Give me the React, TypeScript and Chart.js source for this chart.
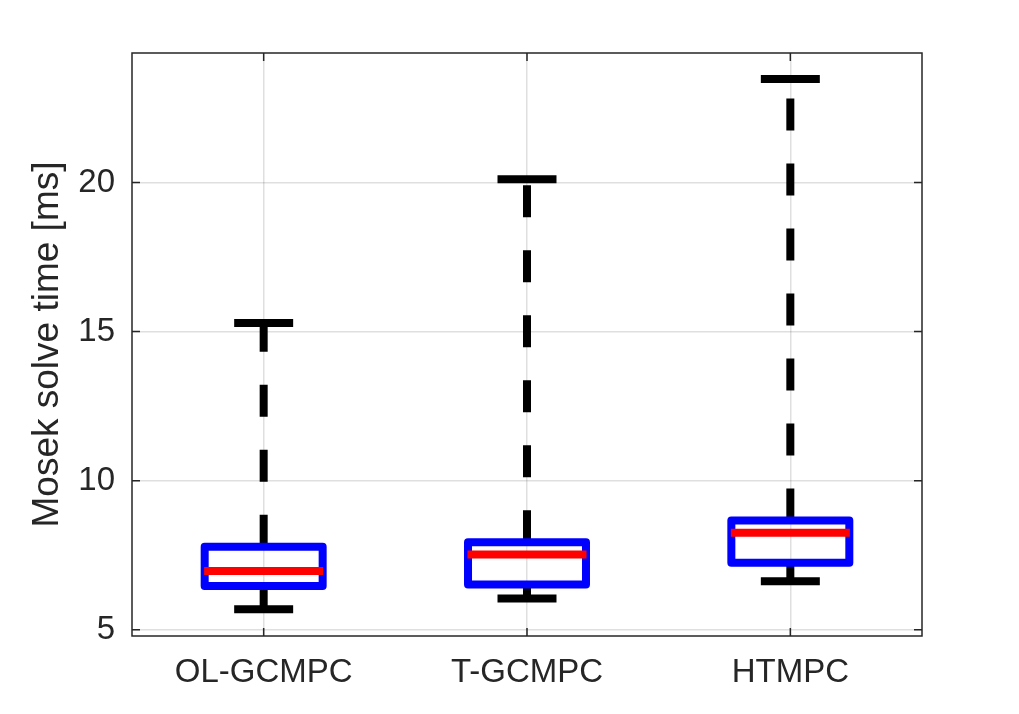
import React, { useEffect, useRef } from "react";
import { Chart, registerables } from "chart.js";

Chart.register(...registerables);

// ---- Data ----
const categories = ["OL-GCMPC", "T-GCMPC", "HTMPC"];
const lowerWhisker = [5.69, 6.05, 6.63];
const q1 = [6.47, 6.52, 7.25];
const median = [6.97, 7.52, 8.25];
const q3 = [7.78, 7.93, 8.66];
const upperWhisker = [15.29, 20.11, 23.47];
const yTicks = [5, 10, 15, 20];

// ---- Style constants (half widths in category units) ----
const BOX_HALF = 0.224;
const CAP_HALF = 0.112;
const MED_HALF = 0.226;
const FONT = "'Liberation Sans', Arial, Helvetica, sans-serif";
const AXIS_COLOR = "#262626";

type P = { x: number; y: number | null };

function buildBoxes(): P[] {
  const pts: P[] = [];
  categories.forEach((_, i) => {
    const x = i + 1;
    pts.push({ x, y: q1[i] });
    pts.push({ x: x + BOX_HALF, y: q1[i] });
    pts.push({ x: x + BOX_HALF, y: q3[i] });
    pts.push({ x: x - BOX_HALF, y: q3[i] });
    pts.push({ x: x - BOX_HALF, y: q1[i] });
    pts.push({ x, y: q1[i] });
    pts.push({ x, y: null });
  });
  return pts;
}

function buildWhiskers(): P[] {
  const pts: P[] = [];
  categories.forEach((_, i) => {
    const x = i + 1;
    pts.push({ x, y: q3[i] }, { x, y: upperWhisker[i] }, { x, y: null });
    pts.push({ x, y: q1[i] }, { x, y: lowerWhisker[i] }, { x, y: null });
  });
  return pts;
}

function buildCaps(): P[] {
  const pts: P[] = [];
  categories.forEach((_, i) => {
    const x = i + 1;
    pts.push({ x: x - CAP_HALF, y: upperWhisker[i] }, { x: x + CAP_HALF, y: upperWhisker[i] }, { x, y: null });
    pts.push({ x: x - CAP_HALF, y: lowerWhisker[i] }, { x: x + CAP_HALF, y: lowerWhisker[i] }, { x, y: null });
  });
  return pts;
}

function buildMedians(): P[] {
  const pts: P[] = [];
  categories.forEach((_, i) => {
    const x = i + 1;
    pts.push({ x: x - MED_HALF, y: median[i] }, { x: x + MED_HALF, y: median[i] }, { x, y: null });
  });
  return pts;
}

const framePlugin = {
  id: "frame",
  afterDatasetsDraw(chart: any) {
    const { ctx, chartArea, scales } = chart;
    const { left, right, top, bottom } = chartArea;
    const tl = 8;
    ctx.save();
    ctx.strokeStyle = AXIS_COLOR;
    ctx.lineWidth = 1.5;
    ctx.strokeRect(left, top, right - left, bottom - top);
    ctx.beginPath();
    scales.x.ticks.forEach((t: any) => {
      const px = scales.x.getPixelForValue(t.value);
      ctx.moveTo(px, bottom);
      ctx.lineTo(px, bottom - tl);
      ctx.moveTo(px, top);
      ctx.lineTo(px, top + tl);
    });
    scales.y.ticks.forEach((t: any) => {
      const py = scales.y.getPixelForValue(t.value);
      ctx.moveTo(left, py);
      ctx.lineTo(left + tl, py);
      ctx.moveTo(right, py);
      ctx.lineTo(right - tl, py);
    });
    ctx.stroke();
    ctx.restore();
  },
};

export default function App() {
  const ref = useRef<HTMLCanvasElement | null>(null);

  useEffect(() => {
    if (!ref.current) return;
    const common = { pointRadius: 0, pointHoverRadius: 0, fill: false, spanGaps: false, tension: 0 };
    const chart = new Chart(ref.current, {
      type: "line",
      data: {
        datasets: [
          {
            ...common,
            label: "median",
            data: buildMedians() as any,
            borderColor: "#ff0000",
            borderWidth: 8,
            borderCapStyle: "butt",
            order: 0,
          },
          {
            ...common,
            label: "box",
            data: buildBoxes() as any,
            borderColor: "#0000ff",
            borderWidth: 8,
            borderJoinStyle: "round",
            borderCapStyle: "butt",
            order: 1,
          },
          {
            ...common,
            label: "caps",
            data: buildCaps() as any,
            borderColor: "#000000",
            borderWidth: 8,
            borderCapStyle: "butt",
            order: 2,
          },
          {
            ...common,
            label: "whiskers",
            data: buildWhiskers() as any,
            borderColor: "#000000",
            borderWidth: 8,
            borderDash: [32, 33],
            borderCapStyle: "butt",
            order: 3,
          },
        ] as any,
      },
      options: {
        responsive: false,
        devicePixelRatio: 1,
        animation: false,
        events: [],
        layout: { padding: { top: 53, right: 97, left: 0, bottom: 0 } },
        plugins: {
          legend: { display: false },
          tooltip: { enabled: false },
        },
        scales: {
          x: {
            type: "linear",
            min: 0.5,
            max: 3.5,
            afterBuildTicks: (scale: any) => {
              scale.ticks = categories.map((_, i) => ({ value: i + 1 }));
            },
            afterFit: (scale: any) => {
              scale.height = 78;
            },
            ticks: {
              callback: (v: any) => categories[Math.round(Number(v)) - 1] ?? "",
              font: { family: FONT, size: 33 },
              color: AXIS_COLOR,
              padding: 17,
              maxRotation: 0,
              autoSkip: false,
            },
            grid: {
              color: "rgba(38,38,38,0.15)",
              lineWidth: 1.5,
              drawTicks: false,
            },
            border: { display: false },
          },
          y: {
            type: "linear",
            min: 4.79,
            max: 24.34,
            afterBuildTicks: (scale: any) => {
              scale.ticks = yTicks.map((v) => ({ value: v }));
            },
            afterFit: (scale: any) => {
              scale.width = 132;
            },
            ticks: {
              font: { family: FONT, size: 33 },
              color: AXIS_COLOR,
              padding: 17,
            },
            grid: {
              color: "rgba(38,38,38,0.15)",
              lineWidth: 1.5,
              drawTicks: false,
            },
            border: { display: false },
            title: {
              display: true,
              text: "Mosek solve time [ms]",
              font: { family: FONT, size: 37 },
              color: AXIS_COLOR,
              padding: { top: 26, bottom: 0 },
            },
          },
        },
      } as any,
      plugins: [framePlugin],
    });
    return () => chart.destroy();
  }, []);

  return (
    <div style={{ position: "absolute", left: 0, top: 0, width: 1019, height: 714, background: "#ffffff" }}>
      <canvas ref={ref} width={1019} height={714} style={{ display: "block" }} />
    </div>
  );
}
